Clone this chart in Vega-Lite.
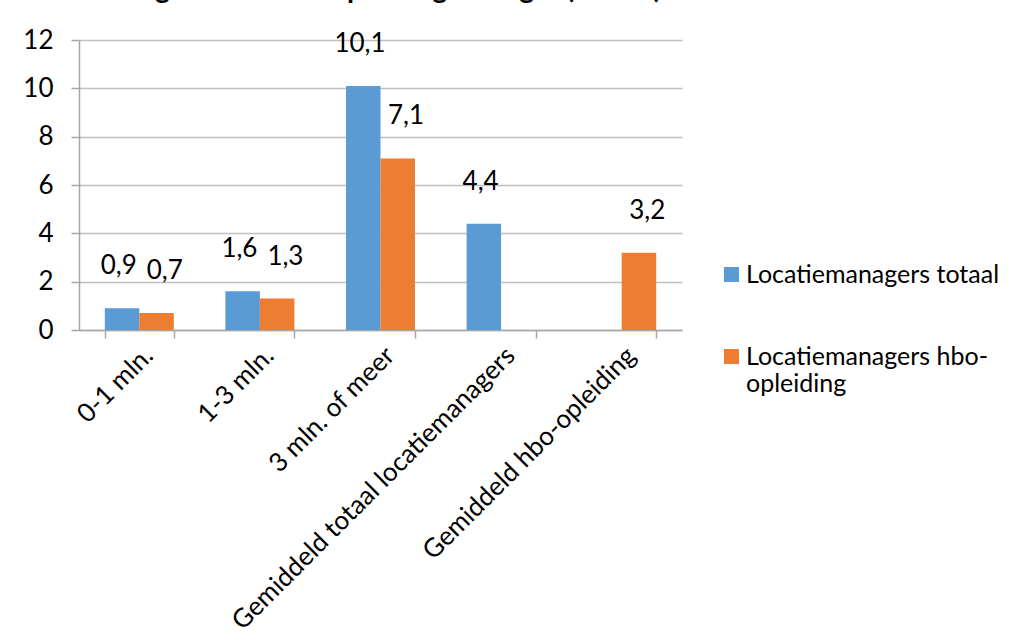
{
  "$schema": "https://vega.github.io/schema/vega-lite/v6.json",
  "width": 603,
  "height": 290,
  "autosize": {"type": "none"},
  "padding": {"left": 79, "top": 40, "right": 330, "bottom": 314},
  "background": "white",
  "title": {
    "text": "locatiemanagers met hbo-opleiding of hoger (in FTE)",
    "anchor": "start",
    "frame": "group",
    "font": "Lato",
    "fontSize": 28.5,
    "fontWeight": "bold",
    "color": "#000000",
    "baseline": "alphabetic",
    "offset": 0,
    "dx": -78,
    "dy": -1
  },
  "config": {
    "font": "Lato",
    "view": {"stroke": null},
    "locale": {
      "number": {"decimal": ",", "thousands": ".", "grouping": [3], "currency": ["€", ""]}
    }
  },
  "data": {
    "values": [
      {"categorie": "0-1 mln.", "reeks": "Locatiemanagers totaal", "waarde": 0.9},
      {"categorie": "0-1 mln.", "reeks": "Locatiemanagers hbo-opleiding", "waarde": 0.7},
      {"categorie": "1-3 mln.", "reeks": "Locatiemanagers totaal", "waarde": 1.6},
      {"categorie": "1-3 mln.", "reeks": "Locatiemanagers hbo-opleiding", "waarde": 1.3},
      {"categorie": "3 mln. of meer", "reeks": "Locatiemanagers totaal", "waarde": 10.1},
      {"categorie": "3 mln. of meer", "reeks": "Locatiemanagers hbo-opleiding", "waarde": 7.1},
      {"categorie": "Gemiddeld totaal locatiemanagers", "reeks": "Locatiemanagers totaal", "waarde": 4.4},
      {"categorie": "Gemiddeld hbo-opleiding", "reeks": "Locatiemanagers hbo-opleiding", "waarde": 3.2}
    ]
  },
  "encoding": {
    "x": {
      "field": "categorie",
      "type": "nominal",
      "sort": ["0-1 mln.", "1-3 mln.", "3 mln. of meer", "Gemiddeld totaal locatiemanagers", "Gemiddeld hbo-opleiding"],
      "scale": {"paddingInner": 0.428, "paddingOuter": 0.214},
      "axis": {
        "title": null,
        "labelAngle": -45,
        "labelFontSize": 26,
        "labelColor": "#000000",
        "labelLimit": 600,
        "labelPadding": 4,
        "domainColor": "#a6a6a6",
        "domainWidth": 1.5,
        "tickColor": "#a6a6a6",
        "tickWidth": 1.5,
        "tickSize": 8,
        "tickBand": "extent",
        "tickExtra": true,
        "grid": false
      }
    },
    "y": {
      "field": "waarde",
      "type": "quantitative",
      "scale": {"domain": [0, 12], "nice": false},
      "axis": {
        "title": null,
        "values": [0, 2, 4, 6, 8, 10, 12],
        "labelFontSize": 26,
        "labelColor": "#000000",
        "labelPadding": 18,
        "format": "d",
        "grid": true,
        "gridColor": "#bfbfbf",
        "gridWidth": 1.5,
        "domainColor": "#a6a6a6",
        "domainWidth": 1.5,
        "tickColor": "#a6a6a6",
        "tickWidth": 1.5,
        "tickSize": 8
      }
    }
  },
  "layer": [
    {
      "mark": {"type": "bar"},
      "encoding": {
        "xOffset": {
          "field": "reeks",
          "type": "nominal",
          "sort": ["Locatiemanagers totaal", "Locatiemanagers hbo-opleiding"],
          "scale": {"domain": ["Locatiemanagers totaal", "Locatiemanagers hbo-opleiding"], "paddingInner": 0, "paddingOuter": 0}
        },
        "color": {
          "field": "reeks",
          "type": "nominal",
          "scale": {"domain": ["Locatiemanagers totaal", "Locatiemanagers hbo-opleiding"], "range": ["#5b9bd5", "#ed7d31"]},
          "legend": {
            "title": null,
            "orient": "none",
            "legendX": 640,
            "legendY": 222,
            "symbolType": "square",
            "symbolSize": 225,
            "symbolStrokeWidth": 0,
            "symbolOpacity": 1,
            "labelFontSize": 25,
            "labelColor": "#000000",
            "labelLimit": 400,
            "labelOffset": 2,
            "labelBaseline": "middle",
            "rowPadding": 56,
            "labelExpr": "datum.label == 'Locatiemanagers hbo-opleiding' ? ['Locatiemanagers hbo-', 'opleiding'] : datum.label"
          }
        }
      }
    },
    {
      "mark": {"type": "text", "baseline": "middle", "dy": -42, "fontSize": 26, "color": "#000000"},
      "encoding": {
        "xOffset": {
          "field": "reeks",
          "type": "nominal",
          "sort": ["Locatiemanagers totaal", "Locatiemanagers hbo-opleiding"],
          "scale": {"type": "point", "domain": ["Locatiemanagers totaal", "Locatiemanagers hbo-opleiding"], "padding": 0, "range": [14, 60]}
        },
        "text": {"field": "waarde", "type": "quantitative", "format": ".1f"}
      }
    }
  ],
  "resolve": {"scale": {"xOffset": "independent"}}
}
